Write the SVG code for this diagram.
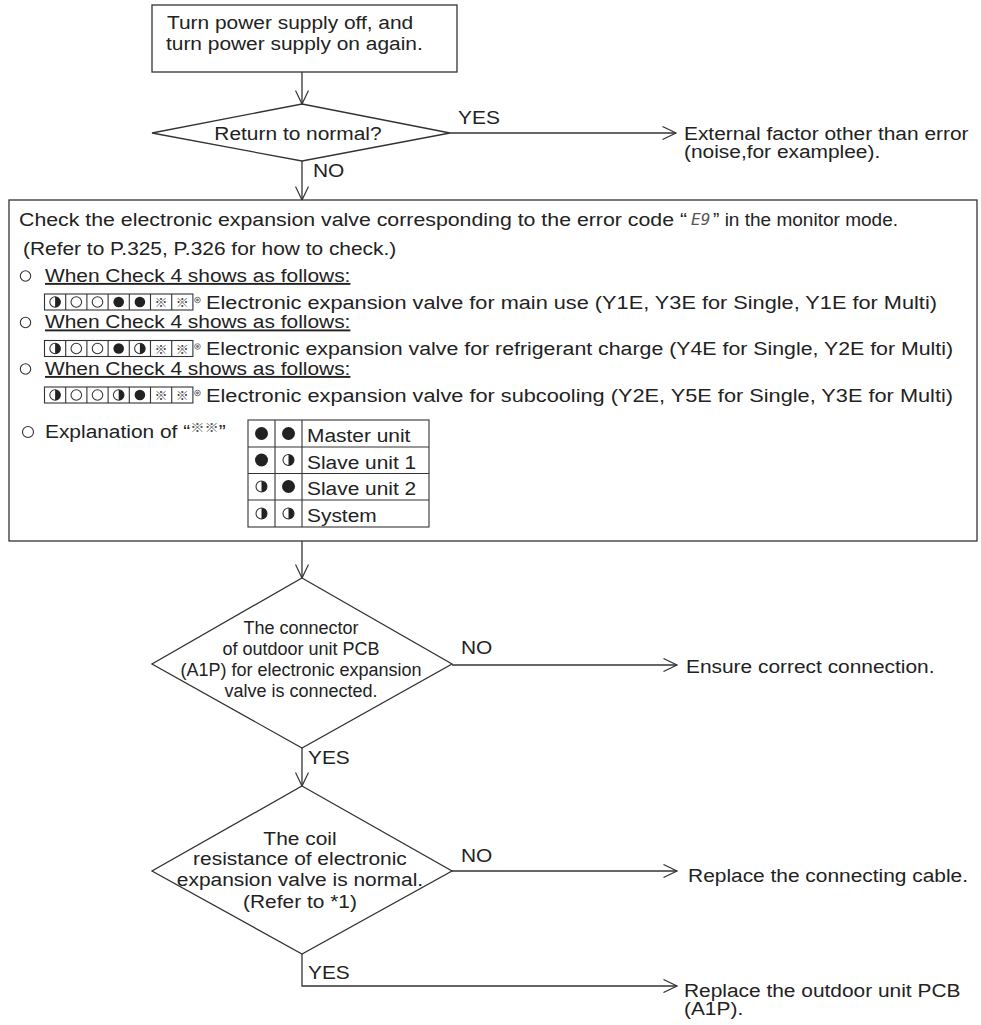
<svg xmlns="http://www.w3.org/2000/svg" xmlns:xlink="http://www.w3.org/1999/xlink" width="981" height="1025" viewBox="0 0 981 1025">
  <style>
    .txt { font-family: "Liberation Sans", Arial, sans-serif; font-size: 19px; fill: #222; }
    .sm { font-family: "Liberation Sans", Arial, sans-serif; font-size: 18px; fill: #222; }
    .mid { text-anchor: middle; }
    .ref { font-family: "Noto Sans CJK JP", "DejaVu Sans", sans-serif; font-size: 13px; fill: #444; text-anchor: middle; }
    .box { fill: #fff; stroke: #333; stroke-width: 1.3; }
    .cell { fill: none; stroke: #333; stroke-width: 1.1; }
    .edge { fill: none; stroke: #333; stroke-width: 1.3; }
    .seg { font-family: "DejaVu Sans Mono", monospace; font-style: italic; font-size: 16px; fill: #555; }
  </style>
  <defs>
    <marker id="arrow" markerUnits="userSpaceOnUse" viewBox="0 0 16 14" markerWidth="16" markerHeight="14" refX="14.5" refY="7" orient="auto">
      <path d="M1,0.5 L14.5,7 L1,13.5" fill="none" stroke="#333" stroke-width="1.2"/>
    </marker>
    <!-- LED indicator states: lit, off, blinking (unit radius, scaled per use) -->
    <g id="lit"><circle r="1" fill="#222"/></g>
    <g id="off"><circle r="1" fill="#fff" stroke="#333" stroke-width="0.2"/></g>
    <g id="blink"><circle r="1" fill="#fff" stroke="#333" stroke-width="0.2"/><path d="M0,-1 A1,1 0 0 1 0,1 Z" fill="#222"/></g>
    <g id="dot"><circle r="2.8" fill="#fff" stroke="#777" stroke-width="1"/><circle r="1.4" fill="#777"/></g>
  </defs>

  <!-- connectors; body text is set 19px and widened 10% horizontally -->
  <g id="connectors">
    <line class="edge" x1="302" y1="72" x2="302" y2="104" marker-end="url(#arrow)"/>
    <line class="edge" x1="450" y1="133" x2="676" y2="133" marker-end="url(#arrow)"/>
    <line class="edge" x1="302" y1="161" x2="302" y2="200" marker-end="url(#arrow)"/>
    <line class="edge" x1="302" y1="541" x2="302" y2="578" marker-end="url(#arrow)"/>
    <line class="edge" x1="452" y1="665" x2="677" y2="665" marker-end="url(#arrow)"/>
    <line class="edge" x1="302" y1="748" x2="302" y2="786" marker-end="url(#arrow)"/>
    <line class="edge" x1="452" y1="871" x2="677" y2="871" marker-end="url(#arrow)"/>
    <polyline class="edge" points="302,954 302,986 677,986" marker-end="url(#arrow)"/>
    <text class="txt" transform="scale(1.1,1)" x="416.4" y="124">YES</text>
    <text class="txt" transform="scale(1.1,1)" x="284.5" y="177">NO</text>
    <text class="txt" transform="scale(1.1,1)" x="419.1" y="654">NO</text>
    <text class="txt" transform="scale(1.1,1)" x="280" y="764">YES</text>
    <text class="txt" transform="scale(1.1,1)" x="419.1" y="862">NO</text>
    <text class="txt" transform="scale(1.1,1)" x="280" y="979">YES</text>
  </g>

  <g id="power-cycle">
    <rect class="box" x="152" y="5" width="305" height="67"/>
    <text class="txt" transform="scale(1.1,1)" x="151.8" y="29">Turn power supply off, and</text>
    <text class="txt" transform="scale(1.1,1)" x="150.9" y="50">turn power supply on again.</text>
  </g>

  <g id="return-normal">
    <polygon class="box" points="302,104 450,133 302,161 152,133"/>
    <text class="txt mid" transform="scale(1.1,1)" x="270.9" y="140">Return to normal?</text>
  </g>

  <g id="external-factor">
    <text class="txt" transform="scale(1.1,1)" x="621.8" y="140">External factor other than error</text>
    <text class="txt" transform="scale(1.1,1)" x="621.8" y="158">(noise,for examplee).</text>
  </g>

  <g id="check-valve">
    <rect class="box" x="9" y="200" width="968" height="341"/>
    <text class="txt" transform="scale(1.1,1)" x="17.3" y="226" textLength="607.3" lengthAdjust="spacingAndGlyphs">Check the electronic expansion valve corresponding to the error code “</text>
    <text class="seg" x="691" y="225">E9</text>
    <text class="txt" transform="scale(1.1,1)" x="648.2" y="226" textLength="168.2" lengthAdjust="spacingAndGlyphs">” in the monitor mode.</text>
    <text class="txt" transform="scale(1.1,1)" x="20.9" y="255">(Refer to P.325, P.326 for how to check.)</text>

    <!-- case 1 -->
    <circle cx="25.5" cy="276" r="5.2" fill="none" stroke="#333" stroke-width="1.1"/>
    <text class="txt" transform="scale(1.1,1)" x="40.9" y="282" text-decoration="underline">When Check 4 shows as follows:</text>
    <g id="pattern-main">
      <rect class="cell" x="44.5" y="294" width="148.4" height="16"/>
      <path class="cell" d="M65.7,294v16M86.9,294v16M108.1,294v16M129.3,294v16M150.5,294v16M171.7,294v16"/>
      <use xlink:href="#blink" transform="translate(55.1,302) scale(5.3)"/>
      <use xlink:href="#off" transform="translate(76.3,302) scale(5.3)"/>
      <use xlink:href="#off" transform="translate(97.5,302) scale(5.3)"/>
      <use xlink:href="#lit" transform="translate(118.7,302) scale(5.3)"/>
      <use xlink:href="#lit" transform="translate(139.9,302) scale(5.3)"/>
      <text class="ref" x="161.1" y="307">※</text>
      <text class="ref" x="182.3" y="307">※</text>
      <use xlink:href="#dot" x="197.5" y="300"/>
    </g>
    <text class="txt" transform="scale(1.1,1)" x="187.3" y="309" textLength="664.5" lengthAdjust="spacingAndGlyphs">Electronic expansion valve for main use (Y1E, Y3E for Single, Y1E for Multi)</text>

    <!-- case 2 -->
    <circle cx="25.5" cy="322.5" r="5.2" fill="none" stroke="#333" stroke-width="1.1"/>
    <text class="txt" transform="scale(1.1,1)" x="40.9" y="328.5" text-decoration="underline">When Check 4 shows as follows:</text>
    <g id="pattern-charge">
      <rect class="cell" x="44.5" y="340.5" width="148.4" height="16"/>
      <path class="cell" d="M65.7,340.5v16M86.9,340.5v16M108.1,340.5v16M129.3,340.5v16M150.5,340.5v16M171.7,340.5v16"/>
      <use xlink:href="#blink" transform="translate(55.1,348.5) scale(5.3)"/>
      <use xlink:href="#off" transform="translate(76.3,348.5) scale(5.3)"/>
      <use xlink:href="#off" transform="translate(97.5,348.5) scale(5.3)"/>
      <use xlink:href="#lit" transform="translate(118.7,348.5) scale(5.3)"/>
      <use xlink:href="#blink" transform="translate(139.9,348.5) scale(5.3)"/>
      <text class="ref" x="161.1" y="353.5">※</text>
      <text class="ref" x="182.3" y="353.5">※</text>
      <use xlink:href="#dot" x="197.5" y="346.5"/>
    </g>
    <text class="txt" transform="scale(1.1,1)" x="187.3" y="355.5" textLength="679.1" lengthAdjust="spacingAndGlyphs">Electronic expansion valve for refrigerant charge (Y4E for Single, Y2E for Multi)</text>

    <!-- case 3 -->
    <circle cx="25.5" cy="369" r="5.2" fill="none" stroke="#333" stroke-width="1.1"/>
    <text class="txt" transform="scale(1.1,1)" x="40.9" y="375" text-decoration="underline">When Check 4 shows as follows:</text>
    <g id="pattern-subcool">
      <rect class="cell" x="44.5" y="387" width="148.4" height="16"/>
      <path class="cell" d="M65.7,387v16M86.9,387v16M108.1,387v16M129.3,387v16M150.5,387v16M171.7,387v16"/>
      <use xlink:href="#blink" transform="translate(55.1,395) scale(5.3)"/>
      <use xlink:href="#off" transform="translate(76.3,395) scale(5.3)"/>
      <use xlink:href="#off" transform="translate(97.5,395) scale(5.3)"/>
      <use xlink:href="#blink" transform="translate(118.7,395) scale(5.3)"/>
      <use xlink:href="#lit" transform="translate(139.9,395) scale(5.3)"/>
      <text class="ref" x="161.1" y="400">※</text>
      <text class="ref" x="182.3" y="400">※</text>
      <use xlink:href="#dot" x="197.5" y="393"/>
    </g>
    <text class="txt" transform="scale(1.1,1)" x="187.3" y="402" textLength="679.1" lengthAdjust="spacingAndGlyphs">Electronic expansion valve for subcooling (Y2E, Y5E for Single, Y3E for Multi)</text>

    <!-- unit legend -->
    <circle cx="28" cy="432" r="5.5" fill="none" stroke="#333" stroke-width="1.1"/>
    <text class="txt" transform="scale(1.1,1)" x="40.9" y="438">Explanation of “<tspan font-family="Noto Sans CJK JP, sans-serif" font-size="13" fill="#555" dy="-6">※※</tspan><tspan dy="6">”</tspan></text>
    <g id="unit-table">
      <rect class="cell" x="248" y="420" width="181" height="107"/>
      <path class="cell" d="M275,420v107M302,420v107M248,447h181M248,473.5h181M248,500h181"/>
      <use xlink:href="#lit" transform="translate(261.5,433.5) scale(6.5)"/>
      <use xlink:href="#lit" transform="translate(288.5,433.5) scale(6.5)"/>
      <use xlink:href="#lit" transform="translate(261.5,460) scale(6.5)"/>
      <use xlink:href="#blink" transform="translate(288.5,460) scale(5.5)"/>
      <use xlink:href="#blink" transform="translate(261.5,486.5) scale(5.5)"/>
      <use xlink:href="#lit" transform="translate(288.5,486.5) scale(6.5)"/>
      <use xlink:href="#blink" transform="translate(261.5,513.5) scale(5.5)"/>
      <use xlink:href="#blink" transform="translate(288.5,513.5) scale(5.5)"/>
      <text class="txt" transform="scale(1.1,1)" x="279.1" y="442.5">Master unit</text>
      <text class="txt" transform="scale(1.1,1)" x="279.1" y="469">Slave unit 1</text>
      <text class="txt" transform="scale(1.1,1)" x="279.1" y="495.5">Slave unit 2</text>
      <text class="txt" transform="scale(1.1,1)" x="279.1" y="522">System</text>
    </g>
  </g>

  <g id="connector-check">
    <polygon class="box" points="302,578 452,664 302,748 152,664"/>
    <text class="sm mid" x="301" y="634">The connector</text>
    <text class="sm mid" x="301" y="655">of outdoor unit PCB</text>
    <text class="sm mid" x="301" y="676">(A1P) for electronic expansion</text>
    <text class="sm mid" x="301" y="697">valve is connected.</text>
  </g>

  <g id="ensure-connection">
    <text class="txt" transform="scale(1.1,1)" x="623.6" y="673">Ensure correct connection.</text>
  </g>

  <g id="coil-check">
    <polygon class="box" points="302,786 452,871 302,954 152,871"/>
    <text class="txt mid" transform="scale(1.1,1)" x="272.7" y="845">The coil</text>
    <text class="txt mid" transform="scale(1.1,1)" x="272.7" y="865">resistance of electronic</text>
    <text class="txt mid" transform="scale(1.1,1)" x="272.7" y="886">expansion valve is normal.</text>
    <text class="txt mid" transform="scale(1.1,1)" x="272.7" y="908">(Refer to *1)</text>
  </g>

  <g id="replace-cable">
    <text class="txt" transform="scale(1.1,1)" x="625.5" y="882">Replace the connecting cable.</text>
  </g>

  <g id="replace-pcb">
    <text class="txt" transform="scale(1.1,1)" x="621.8" y="997">Replace the outdoor unit PCB</text>
    <text class="txt" transform="scale(1.1,1)" x="621.8" y="1015">(A1P).</text>
  </g>
</svg>
